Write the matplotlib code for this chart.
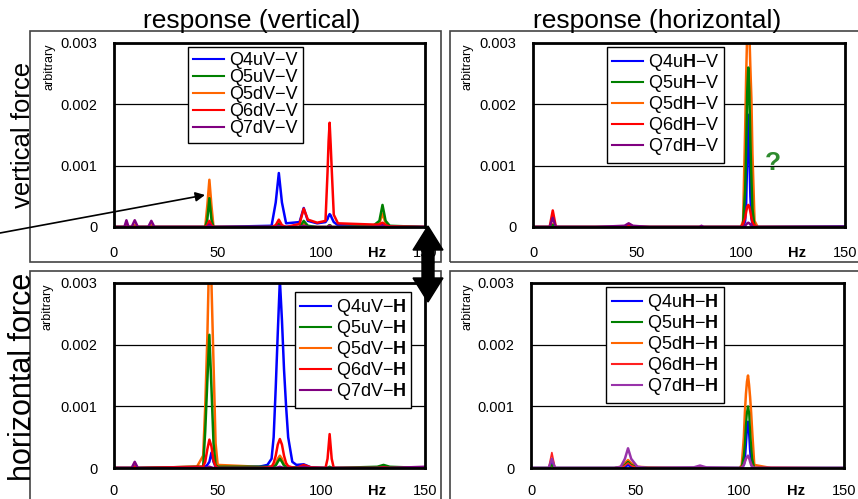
import matplotlib
matplotlib.use('Agg')
from matplotlib import pyplot as plt
from matplotlib.patches import Rectangle, FancyArrow, FancyArrowPatch

plt.rcParams['font.family'] = ['Liberation Sans', 'DejaVu Sans']
plt.rcParams['mathtext.fontset'] = 'custom'
plt.rcParams['mathtext.rm'] = 'Liberation Sans'
plt.rcParams['mathtext.bf'] = 'Liberation Sans:bold'

SCALE = 1e-3  # amplitudes below are typed in units of 0.001

# ---- vertical force / vertical response (top left)
freq_vv = [0, 5, 6, 7, 8.5, 10, 11.5, 16.5, 18, 19.5, 44, 45, 46, 47, 48, 76, 78, 79.5, 81, 83,
           89.5, 91.5, 93.5, 98, 102, 103, 103.5, 104, 104.5, 105, 106, 108, 125, 128, 129.5, 131, 133, 150]
vv_q4u = [0, 0, 0, 0, 0, 0, 0, 0, 0, 0, 0, 0, 0.02, 0, 0, 0.02, 0.4, 0.88, 0.4, 0.06,
          0.08, 0.31, 0.1, 0.06, 0.08, 0.13, 0.18, 0.21, 0.19, 0.15, 0.08, 0.03, 0.02, 0.02, 0.05, 0.02, 0.01, 0]
vv_q5u = [0, 0, 0, 0, 0, 0, 0, 0, 0, 0, 0, 0.12, 0.47, 0.12, 0, 0, 0, 0.05, 0, 0,
          0, 0.1, 0.02, 0, 0, 0, 0.02, 0.03, 0.02, 0, 0, 0, 0.02, 0.1, 0.36, 0.1, 0.02, 0]
vv_q5d = [0, 0, 0.03, 0, 0, 0.03, 0, 0, 0.03, 0, 0, 0.35, 0.77, 0.35, 0, 0, 0, 0.08, 0, 0,
          0, 0.05, 0, 0, 0, 0, 0.02, 0.03, 0.02, 0, 0, 0, 0, 0.06, 0.22, 0.06, 0, 0]
vv_q6d = [0, 0, 0, 0, 0, 0, 0, 0, 0, 0, 0, 0.03, 0.1, 0.03, 0, 0, 0.03, 0.12, 0.03, 0,
          0.05, 0.3, 0.12, 0.07, 0.1, 0.9, 1.4, 1.7, 1.35, 0.95, 0.2, 0.06, 0.04, 0.04, 0.07, 0.03, 0.01, 0]
vv_q7d = [0, 0, 0.11, 0, 0, 0.11, 0, 0, 0.1, 0, 0, 0, 0.04, 0, 0, 0, 0, 0.02, 0, 0,
          0, 0.02, 0, 0, 0, 0, 0.01, 0.02, 0.01, 0, 0, 0, 0, 0, 0.02, 0, 0, 0]
labels_vv = ['Q4uV−V', 'Q5uV−V', 'Q5dV−V', 'Q6dV−V', 'Q7dV−V']

# ---- vertical force / horizontal response (top right)
freq_vh = [0, 8, 9.5, 11, 30, 44, 46, 48, 56, 80, 81, 82,
           100, 101, 102, 102.5, 103, 103.5, 104, 104.5, 105, 105.5, 106.5, 108, 150]
vh_q4u = [0, 0, 0.03, 0, 0, 0, 0.02, 0, 0, 0, 0, 0,
          0, 0, 0.1, 0.4, 1.2, 1.83, 1.2, 0.5, 0.15, 0.05, 0, 0, 0.01]
vh_q5u = [0, 0, 0.03, 0, 0, 0, 0.03, 0, 0, 0, 0, 0,
          0, 0.05, 0.6, 1.3, 2.2, 2.6, 2.2, 1.4, 0.8, 0.3, 0, 0, 0]
vh_q5d = [0, 0, 0.05, 0, 0, 0, 0.05, 0.01, 0, 0, 0, 0,
          0, 0.1, 1.6, 2.5, 3.2, 3.6, 3.2, 2.6, 2.1, 1.2, 0.1, 0, 0]
vh_q6d = [0, 0, 0.27, 0, 0, 0, 0.03, 0, 0, 0, 0, 0,
          0, 0.05, 0.15, 0.25, 0.33, 0.36, 0.33, 0.25, 0.15, 0.08, 0.02, 0, 0]
vh_q7d = [0, 0, 0.15, 0, 0, 0.02, 0.06, 0.02, 0, 0, 0.02, 0,
          0, 0, 0.02, 0.04, 0.06, 0.07, 0.06, 0.04, 0.02, 0, 0, 0, 0]
labels_vh = [r'Q4u$\mathbf{H}$−V', r'Q5u$\mathbf{H}$−V', r'Q5d$\mathbf{H}$−V',
             r'Q6d$\mathbf{H}$−V', r'Q7d$\mathbf{H}$−V']

# ---- horizontal force / vertical response (bottom left)
freq_hv = [0, 8.5, 10, 11.5, 40, 43, 44, 45, 46, 47, 48, 49, 50,
           70, 74, 76, 77, 78, 79, 80, 81, 82, 83, 84, 86, 88,
           91.5, 95, 102, 103, 104, 105, 106, 127, 130, 133, 150]
hv_q4u = [0, 0, 0.02, 0, 0, 0, 0.02, 0.05, 0.1, 0.25, 0.1, 0.02, 0,
          0.02, 0.05, 0.15, 0.5, 1.3, 2.2, 3.05, 2.4, 1.6, 1.0, 0.5, 0.1, 0.05,
          0.06, 0.01, 0, 0, 0.01, 0, 0, 0, 0.02, 0, 0]
hv_q5u = [0, 0, 0.02, 0, 0.02, 0.02, 0.6, 1.4, 2.16, 1.3, 0.4, 0.05, 0.02,
          0.02, 0.02, 0.02, 0.03, 0.04, 0.1, 0.15, 0.1, 0.04, 0.02, 0.01, 0.01, 0.01,
          0.02, 0, 0, 0, 0.02, 0, 0, 0.02, 0.05, 0.02, 0]
hv_q5d = [0, 0, 0.02, 0, 0.02, 0.2, 1.0, 2.1, 3.6, 3.0, 1.7, 0.4, 0.05,
          0.02, 0.02, 0.02, 0.02, 0.06, 0.15, 0.2, 0.15, 0.06, 0.02, 0.01, 0.01, 0.01,
          0.03, 0, 0, 0, 0.01, 0, 0, 0, 0.03, 0, 0]
hv_q6d = [0, 0, 0.02, 0, 0.02, 0.02, 0.1, 0.3, 0.46, 0.35, 0.12, 0.03, 0,
          0, 0.01, 0.02, 0.08, 0.2, 0.38, 0.47, 0.38, 0.2, 0.08, 0.03, 0.01, 0,
          0.05, 0.01, 0, 0.15, 0.55, 0.15, 0, 0, 0.01, 0, 0]
hv_q7d = [0, 0, 0.1, 0, 0, 0, 0, 0.01, 0.02, 0.01, 0, 0, 0,
          0, 0, 0, 0, 0, 0.01, 0.02, 0.01, 0, 0, 0, 0, 0,
          0.02, 0, 0, 0, 0, 0, 0, 0, 0, 0, 0.02]
labels_hv = [r'Q4uV−$\mathbf{H}$', r'Q5uV−$\mathbf{H}$', r'Q5dV−$\mathbf{H}$',
             r'Q6dV−$\mathbf{H}$', r'Q7dV−$\mathbf{H}$']

# ---- horizontal force / horizontal response (bottom right)
freq_hh = [0, 8.5, 10, 11.5, 40, 43, 45, 46.5, 48, 51, 56, 78, 81, 84,
           100, 101, 102, 102.5, 103, 103.5, 104, 104.5, 105, 105.5, 106, 107, 115, 150]
hh_q4u = [0, 0, 0.1, 0, 0, 0, 0.02, 0.05, 0.02, 0, 0, 0, 0.02, 0,
          0, 0, 0.05, 0.15, 0.4, 0.65, 0.75, 0.6, 0.3, 0.1, 0.02, 0, 0, 0]
hh_q5u = [0, 0, 0.05, 0, 0, 0.01, 0.05, 0.1, 0.05, 0.01, 0, 0, 0.02, 0,
          0, 0.02, 0.2, 0.4, 0.7, 0.9, 1.0, 0.9, 0.6, 0.35, 0.15, 0, 0, 0]
hh_q5d = [0, 0, 0.05, 0, 0, 0.02, 0.08, 0.13, 0.08, 0.02, 0.01, 0, 0.02, 0,
          0, 0.05, 0.5, 0.9, 1.2, 1.4, 1.5, 1.35, 1.15, 0.9, 0.6, 0.05, 0, 0]
hh_q6d = [0, 0, 0.25, 0, 0, 0, 0.04, 0.08, 0.04, 0, 0, 0, 0.02, 0,
          0, 0.02, 0.06, 0.1, 0.14, 0.17, 0.18, 0.16, 0.12, 0.08, 0.04, 0.01, 0.01, 0]
hh_q7d = [0, 0, 0.15, 0, 0, 0.02, 0.15, 0.32, 0.15, 0.02, 0, 0.01, 0.04, 0.01,
          0, 0, 0.05, 0.1, 0.15, 0.18, 0.2, 0.17, 0.1, 0.05, 0.02, 0, 0, 0]
labels_hh = [r'Q4u$\mathbf{H}$−$\mathbf{H}$', r'Q5u$\mathbf{H}$−$\mathbf{H}$', r'Q5d$\mathbf{H}$−$\mathbf{H}$',
             r'Q6d$\mathbf{H}$−$\mathbf{H}$', r'Q7d$\mathbf{H}$−$\mathbf{H}$']

colors = ['#0000ff', '#008000', '#ff6600', '#ff0000', '#800080']
colors_hh = ['#0000ff', '#008000', '#ff6600', '#ff2020', '#9933aa']
zorders = [2.2, 2.3, 2.0, 2.4, 2.5]  # orange sits underneath the others
xtick_vals = [0, 50, 100, 127, 150]
xtick_labels = ['0', '50', '100', 'Hz', '150']
ytick_vals = [0, 0.001, 0.002, 0.003]
ytick_labels = ['0', '0.001', '0.002', '0.003']

W, H = 858, 499
fig = plt.figure(figsize=(W / 100, H / 100), dpi=100)
fig.patch.set_facecolor('white')


def px_box(x0, y0, x1, y1):
    # pixel box (top-left origin) -> figure fraction [l, b, w, h]
    return [x0 / W, 1 - y1 / H, (x1 - x0) / W, (y1 - y0) / H]


# panel frames
for x0, y0, x1, y1 in [(30, 31, 441, 262), (450, 31, 880, 262), (30, 271, 441, 520), (450, 271, 880, 520)]:
    l, b, w, h = px_box(x0, y0, x1, y1)
    fig.add_artist(Rectangle((l, b), w, h, transform=fig.transFigure, fill=False,
                             edgecolor='#444444', lw=1.2, zorder=0))

panels = [
    (px_box(114, 43, 425, 227), freq_vv, [vv_q4u, vv_q5u, vv_q5d, vv_q6d, vv_q7d], labels_vv, colors, (0.238, 0.978), [1.8] * 5, 14),
    (px_box(533, 43, 845, 227), freq_vh, [vh_q4u, vh_q5u, vh_q5d, vh_q6d, vh_q7d], labels_vh, colors, (0.237, 0.978), [1.8] * 5, 14),
    (px_box(114, 283, 425, 468), freq_hv, [hv_q4u, hv_q5u, hv_q5d, hv_q6d, hv_q7d], labels_hv, colors, (0.582, 0.951), [1.8] * 5, 11.5),
    (px_box(531, 283, 844, 468), freq_hh, [hh_q4u, hh_q5u, hh_q5d, hh_q6d, hh_q7d], labels_hh, colors_hh, (0.24, 0.978), [1.8, 1.6, 1.8, 1.2, 1.8], 11.5),
]

for rect, freq, series, labels, cols, leg_pos, lws, xpad in panels:
    ax = fig.add_axes(rect)
    for vals, lab, c, lw, zo in zip(series, labels, cols, lws, zorders):
        ax.plot(freq, [v * SCALE for v in vals], color=c, lw=lw, label=lab, zorder=zo)
    ax.set_xlim(0, 150)
    ax.set_ylim(0, 0.003)
    ax.set_xticks(xtick_vals)
    ax.set_xticklabels(xtick_labels)
    ax.get_xticklabels()[3].set_fontweight('bold')
    ax.set_yticks(ytick_vals)
    ax.set_yticklabels(ytick_labels)
    ax.set_xticks([50, 100], minor=True)
    ax.tick_params(which='both', length=0, labelsize=10.5)
    ax.tick_params(axis='x', pad=xpad)
    ax.tick_params(axis='y', pad=12)
    ax.grid(which='minor', axis='x', color='#777777', lw=1)
    ax.grid(which='major', axis='y', color='black', lw=0.9)
    ax.grid(which='major', axis='x', visible=False)
    ax.set_axisbelow(True)
    for sp in ax.spines.values():
        sp.set_linewidth(2)
        sp.set_color('black')
    leg = ax.legend(loc='upper left', bbox_to_anchor=leg_pos, borderaxespad=0, fontsize=13,
                    handlelength=1.7, handletextpad=0.25, labelspacing=0.0, borderpad=0.3,
                    fancybox=False, framealpha=1, edgecolor='black')
    leg.set_zorder(5)
    leg.get_frame().set_linewidth(1)
    for ln in leg.get_lines():
        ln.set_linewidth(1.5)

# 'arbitrary' axis notes
for x, y in [(49, 43), (467, 43), (48, 283), (467, 283)]:
    fig.text(x / W, 1 - y / H, 'arbitrary', rotation=90, fontsize=9, ha='center', va='top')

# column titles and row labels
fig.text(252 / W, 1 - 21 / H, 'response (vertical)', fontsize=19, ha='center', va='center')
fig.text(657 / W, 1 - 21 / H, 'response (horizontal)', fontsize=19, ha='center', va='center')
fig.text(23 / W, 1 - 135 / H, 'vertical force', fontsize=18.5, rotation=90, ha='center', va='center')
fig.text(23 / W, 1 - 377 / H, 'horizontal force', fontsize=22, rotation=90, ha='center', va='center')

# question mark
fig.text(773 / W, 1 - 163 / H, '?', fontsize=19, fontweight='bold', color='#2e8b2e', ha='center', va='center')

# pointer arrow to the 46 Hz peak
fig.add_artist(FancyArrowPatch(posA=(0, (H - 233) / 100), posB=(2.05, (H - 195) / 100),
                               transform=fig.dpi_scale_trans, arrowstyle='-|>', mutation_scale=14,
                               lw=1.2, color='black', shrinkA=0, shrinkB=0, zorder=10))

# double arrow between rows
mid = (H - 263) / 100
for dy in [(H - 226) / 100 - mid, (H - 302) / 100 - mid]:
    fig.add_artist(FancyArrow(4.28, mid, 0, dy, width=0.12, head_width=0.3, head_length=0.24,
                              length_includes_head=True, transform=fig.dpi_scale_trans,
                              color='black', zorder=10))

fig.savefig('out.png', dpi=100)
